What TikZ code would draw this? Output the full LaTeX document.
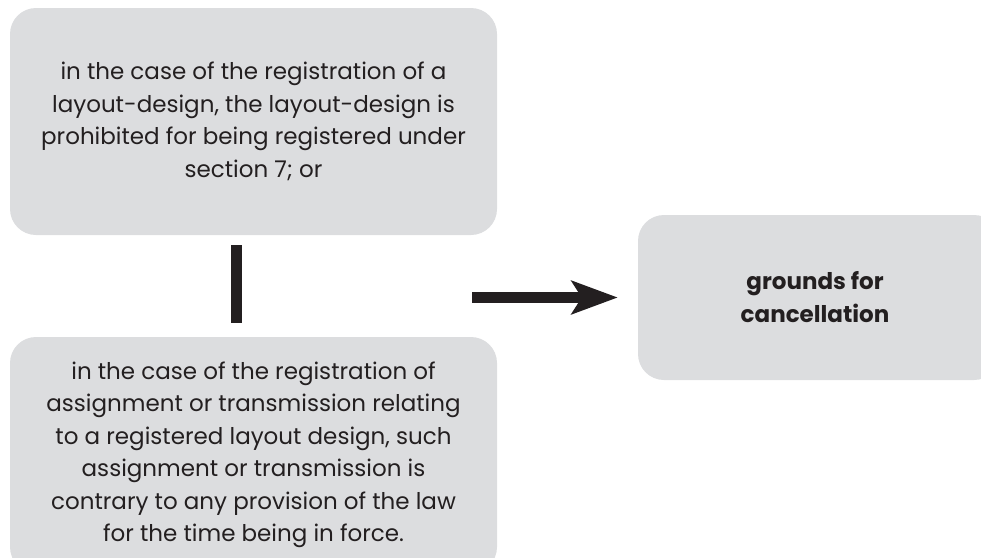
\documentclass[tikz,border=0pt]{standalone}
\usepackage{fontspec}
\setmainfont{Poppins}
\usetikzlibrary{arrows.meta}
\definecolor{boxgrey}{HTML}{DCDDDF}
\definecolor{inkdark}{HTML}{231F20}
\begin{document}
\begin{tikzpicture}[x=1pt,y=-1pt,
    kotak/.style={fill=boxgrey,rounded corners=26pt,inner sep=0pt,align=center,
      text=inkdark,font=\fontsize{23}{32.5}\selectfont},
    garis/.style={draw=inkdark,line width=11pt}]
  \useasboundingbox (0,0) rectangle (981,557);
  % Kotak syarat
  \node[kotak,minimum width=487pt,minimum height=227pt] (atas) at (253.5,121.5)
    {in the case of the registration of a\\ layout-design, the layout-design is\\
     prohibited for being registered under\\ section 7; or};
  \node[kotak,minimum width=487pt,minimum height=236pt] (bawah) at (253.5,455)
    {in the case of the registration of\\ assignment or transmission relating\\
     to a registered layout design, such\\ assignment or transmission is\\
     contrary to any provision of the law\\ for the time being in force.};
  % Kotak hasil
  \node[kotak,minimum width=362pt,minimum height=165pt,
    font=\fontsize{23}{33}\selectfont\bfseries] (hasil) at (819,297.5) {};
  \node[text=inkdark,align=center,font=\fontsize{23}{33}\selectfont\bfseries]
    (hasil teks) at (815,297.5) {grounds for\\ cancellation};
  % Penghubung
  \coordinate (bar atas) at (236.5,245);
  \coordinate (bar bawah) at (236.5,323);
  \draw[garis] (bar atas) -- (bar bawah);
  \coordinate (panah awal) at (472,297.5);
  \draw[garis,-{Stealth[length=46pt,width=33pt,inset=10pt]},shorten >=20pt]
    (panah awal) -- (hasil.west);
\end{tikzpicture}
\end{document}
